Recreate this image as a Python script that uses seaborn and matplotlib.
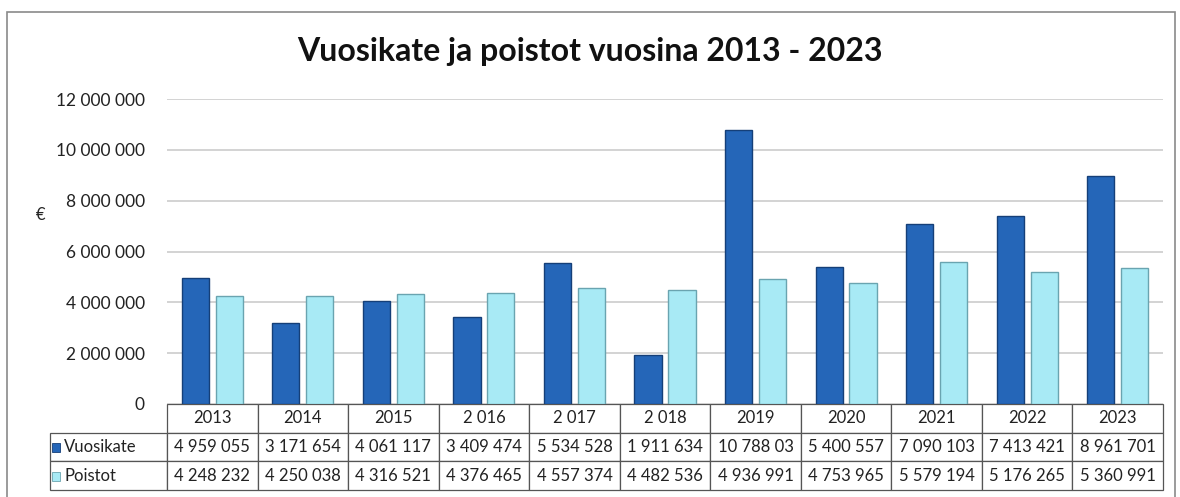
import matplotlib
matplotlib.use("Agg")
import matplotlib.pyplot as plt
import seaborn as sns
import pandas as pd
from matplotlib.patches import Rectangle

# Tiedot (luettu kuvasta)
vuodet = ["2013", "2014", "2015", "2 016", "2 017", "2 018", "2019", "2020", "2021", "2022", "2023"]
vuosikate = [4959055, 3171654, 4061117, 3409474, 5534528, 1911634, 10788030, 5400557, 7090103, 7413421, 8961701]
poistot = [4248232, 4250038, 4316521, 4376465, 4557374, 4482536, 4936991, 4753965, 5579194, 5176265, 5360991]
sarjat = ["Vuosikate", "Poistot"]
y_ticks = [0, 2000000, 4000000, 6000000, 8000000, 10000000, 12000000]

varit = {"Vuosikate": "#2566b8", "Poistot": "#a8eaf5"}
reunat = {"Vuosikate": "#153f78", "Poistot": "#6aa4b0"}

df = pd.DataFrame({
    "vuosi": vuodet * 2,
    "arvo": vuosikate + poistot,
    "sarja": ["Vuosikate"] * len(vuodet) + ["Poistot"] * len(vuodet),
})

def fi_format(v):
    # suomalainen tuhaterotin, Excel leikkaa liian pitkän luvun
    return f"{v:,}".replace(",", " ")[:9]

sns.set_style("white")
plt.rcParams["font.family"] = ["Lato", "DejaVu Sans"]

W, H = 1180, 497
fig = plt.figure(figsize=(W / 100, H / 100), dpi=100)
ax_l, ax_r, ax_t, ax_b = 167, 1163, 99, 404
ax = fig.add_axes([ax_l / W, 1 - ax_b / H, (ax_r - ax_l) / W, (ax_b - ax_t) / H])

sns.barplot(data=df, x="vuosi", y="arvo", hue="sarja", hue_order=sarjat,
            palette=varit, saturation=1, width=0.75, gap=0.2, legend=False,
            ax=ax, zorder=3)

# reunaviivat pylväisiin
for cont, s in zip(ax.containers, sarjat):
    for bar in cont:
        bar.set_edgecolor(reunat[s])
        bar.set_linewidth(1.0)

ax.set_ylim(0, 12000000)
ax.set_xlim(-0.5, len(vuodet) - 0.5)
ax.set_yticks(y_ticks)
ax.set_yticklabels([f"{t:,}".replace(",", " ") for t in y_ticks], fontsize=12.5, color="#222222")
ax.tick_params(axis="y", length=0, pad=16)
ax.set_xticks([])
ax.set_xlabel("")
ax.set_ylabel("€", rotation=0, fontsize=12, va="center")
ax.yaxis.set_label_coords(-0.127, 0.62)
ax.grid(axis="y", color="#cccccc", linewidth=1.2, zorder=0)
sns.despine(ax=ax, left=True, bottom=True)

fig.text(0.5, 1 - 52 / H, "Vuosikate ja poistot vuosina 2013 - 2023",
         ha="center", va="center", fontsize=23, fontweight="bold", color="#111111")

# taulukko pylväiden alle
rivit = [[""] + vuodet,
         ["Vuosikate"] + [fi_format(v) for v in vuosikate],
         ["Poistot"] + [fi_format(v) for v in poistot]]
ax_w = ax_r - ax_l
label_w = 117
tbl_bottom = -(490 - ax_b) / (ax_b - ax_t)
tbl = ax.table(cellText=rivit, cellLoc="center",
               colWidths=[label_w] + [ax_w / len(vuodet)] * len(vuodet),
               bbox=[-label_w / ax_w, tbl_bottom, 1 + label_w / ax_w, -tbl_bottom])
tbl.auto_set_font_size(False)
tbl.set_fontsize(12)
for (r, c), cell in tbl.get_celld().items():
    cell.set_edgecolor("#555555")
    cell.set_linewidth(0.9)
    cell.get_text().set_color("#222222")
    if r == 0 and c == 0:
        cell.visible_edges = ""
    if c == 0 and r > 0:
        cell.get_text().set_ha("left")
        cell.PAD = 0.12

# pienet väriruudut rivien nimissä
for i, s in enumerate(sarjat):
    y_mid = 1 - (433 + 14.5 + i * 28.5) / H
    fig.patches.append(Rectangle((52 / W, y_mid - 4.5 / H), 8 / W, 9 / H,
                                 transform=fig.transFigure, facecolor=varit[s],
                                 edgecolor=reunat[s], linewidth=0.6, figure=fig))

# kehys koko kuvan ympärille
fig.patches.append(Rectangle((7 / W, -0.01), 1168 / W, 1 - 12 / H + 0.01,
                             transform=fig.transFigure, fill=False,
                             edgecolor="#8a8a8a", linewidth=1.2, figure=fig))

fig.savefig("out.png", dpi=100)
